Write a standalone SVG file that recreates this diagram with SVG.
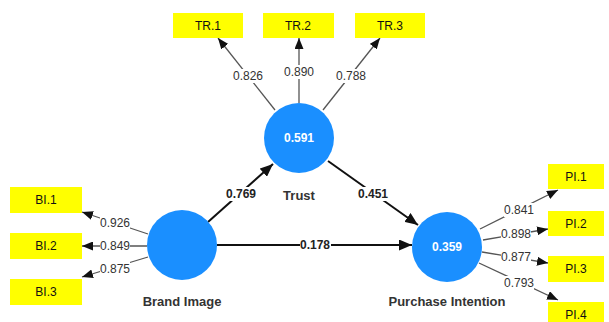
<svg xmlns="http://www.w3.org/2000/svg" width="609" height="322" viewBox="0 0 609 322">
<style>
.box{fill:#ffff00}
.bt{font-family:"Liberation Sans",Arial,sans-serif;font-size:12px;fill:#111;text-anchor:middle}
.c{fill:#1a8fff}
.ct{font-family:"Liberation Sans",Arial,sans-serif;font-size:12px;font-weight:bold;fill:#ffffff;text-anchor:middle}
.nl{font-family:"Liberation Sans",Arial,sans-serif;font-size:13px;font-weight:bold;fill:#333;text-anchor:middle}
.ml{stroke:#555;stroke-width:1.3;fill:none;marker-end:url(#ah)}
.sl{stroke:#111;stroke-width:2;fill:none;marker-end:url(#ahb)}
.lb{fill:#ffffff}
.lt{font-family:"Liberation Sans",Arial,sans-serif;font-size:12px;fill:#333;text-anchor:middle}
.st{font-family:"Liberation Sans",Arial,sans-serif;font-size:12px;font-weight:bold;fill:#222;text-anchor:middle}
</style>
<defs>
<marker id="ah" markerUnits="userSpaceOnUse" markerWidth="11" markerHeight="9" refX="11" refY="4.5" orient="auto"><path d="M0,0 L11,4.5 L0,9 z" fill="#111"/></marker>
<marker id="ahb" markerUnits="userSpaceOnUse" markerWidth="13" markerHeight="11" refX="13" refY="5.5" orient="auto"><path d="M0,0 L13,5.5 L0,11 z" fill="#111"/></marker>
</defs>
<g id="connectors">
<line class="ml" x1="275" y1="110" x2="218" y2="38"/>
<line class="ml" x1="299" y1="103" x2="299" y2="38"/>
<line class="ml" x1="323" y1="110" x2="380" y2="38"/>
<line class="ml" x1="148" y1="234" x2="82" y2="212"/>
<line class="ml" x1="147" y1="246" x2="82" y2="246"/>
<line class="ml" x1="148" y1="257" x2="82" y2="277"/>
<line class="ml" x1="480" y1="229" x2="558" y2="190"/>
<line class="ml" x1="483" y1="240" x2="548" y2="229"/>
<line class="ml" x1="482" y1="252" x2="548" y2="263"/>
<line class="ml" x1="479" y1="263" x2="558" y2="300"/>
<line class="sl" x1="208" y1="222" x2="273" y2="164"/>
<line class="sl" x1="328" y1="161" x2="418" y2="225"/>
<line class="sl" x1="217" y1="245" x2="412" y2="245"/>
<rect class="lb" x="233" y="69" width="30" height="14"/><text class="lt" x="248" y="80">0.826</text>
<rect class="lb" x="284" y="65" width="30" height="14"/><text class="lt" x="299" y="76">0.890</text>
<rect class="lb" x="336" y="69" width="30" height="14"/><text class="lt" x="351" y="80">0.788</text>
<rect class="lb" x="100" y="216" width="30" height="14"/><text class="lt" x="115" y="227">0.926</text>
<rect class="lb" x="100" y="239" width="30" height="14"/><text class="lt" x="115" y="250">0.849</text>
<rect class="lb" x="100" y="262" width="30" height="14"/><text class="lt" x="115" y="273">0.875</text>
<rect class="lb" x="504" y="203" width="30" height="14"/><text class="lt" x="519" y="214">0.841</text>
<rect class="lb" x="501" y="227" width="30" height="14"/><text class="lt" x="516" y="238">0.898</text>
<rect class="lb" x="501" y="250" width="30" height="14"/><text class="lt" x="516" y="261">0.877</text>
<rect class="lb" x="504" y="276" width="30" height="14"/><text class="lt" x="519" y="287">0.793</text>
<rect class="lb" x="226" y="187" width="30" height="14"/><text class="st" x="241" y="198">0.769</text>
<rect class="lb" x="358" y="187" width="30" height="14"/><text class="st" x="373" y="198">0.451</text>
<rect class="lb" x="300" y="238" width="31" height="14"/><text class="st" x="315" y="249">0.178</text>
</g>
<g id="TR1"><rect class="box" x="173" y="13" width="70" height="25"/><text class="bt" x="208" y="30">TR.1</text></g>
<g id="TR2"><rect class="box" x="263" y="13" width="71" height="25"/><text class="bt" x="298" y="30">TR.2</text></g>
<g id="TR3"><rect class="box" x="355" y="13" width="70" height="25"/><text class="bt" x="390" y="30">TR.3</text></g>
<g id="BI1"><rect class="box" x="10" y="187" width="72" height="26"/><text class="bt" x="46" y="204">BI.1</text></g>
<g id="BI2"><rect class="box" x="10" y="233" width="72" height="26"/><text class="bt" x="46" y="250">BI.2</text></g>
<g id="BI3"><rect class="box" x="10" y="279" width="72" height="26"/><text class="bt" x="46" y="296">BI.3</text></g>
<g id="PI1"><rect class="box" x="548" y="164" width="56" height="25"/><text class="bt" x="576" y="181">PI.1</text></g>
<g id="PI2"><rect class="box" x="548" y="211" width="56" height="25"/><text class="bt" x="576" y="228">PI.2</text></g>
<g id="PI3"><rect class="box" x="548" y="256" width="56" height="26"/><text class="bt" x="576" y="273">PI.3</text></g>
<g id="PI4"><rect class="box" x="548" y="302" width="56" height="25"/><text class="bt" x="576" y="319">PI.4</text></g>
<g id="Trust"><circle class="c" cx="299" cy="138" r="35"/><text class="ct" x="299" y="142">0.591</text><text class="nl" x="299" y="200">Trust</text></g>
<g id="BrandImage"><circle class="c" cx="182" cy="245" r="35"/><text class="nl" x="182" y="306">Brand Image</text></g>
<g id="PurchaseIntention"><circle class="c" cx="447" cy="247" r="35"/><text class="ct" x="447" y="251">0.359</text><text class="nl" x="447" y="306">Purchase Intention</text></g>
</svg>
